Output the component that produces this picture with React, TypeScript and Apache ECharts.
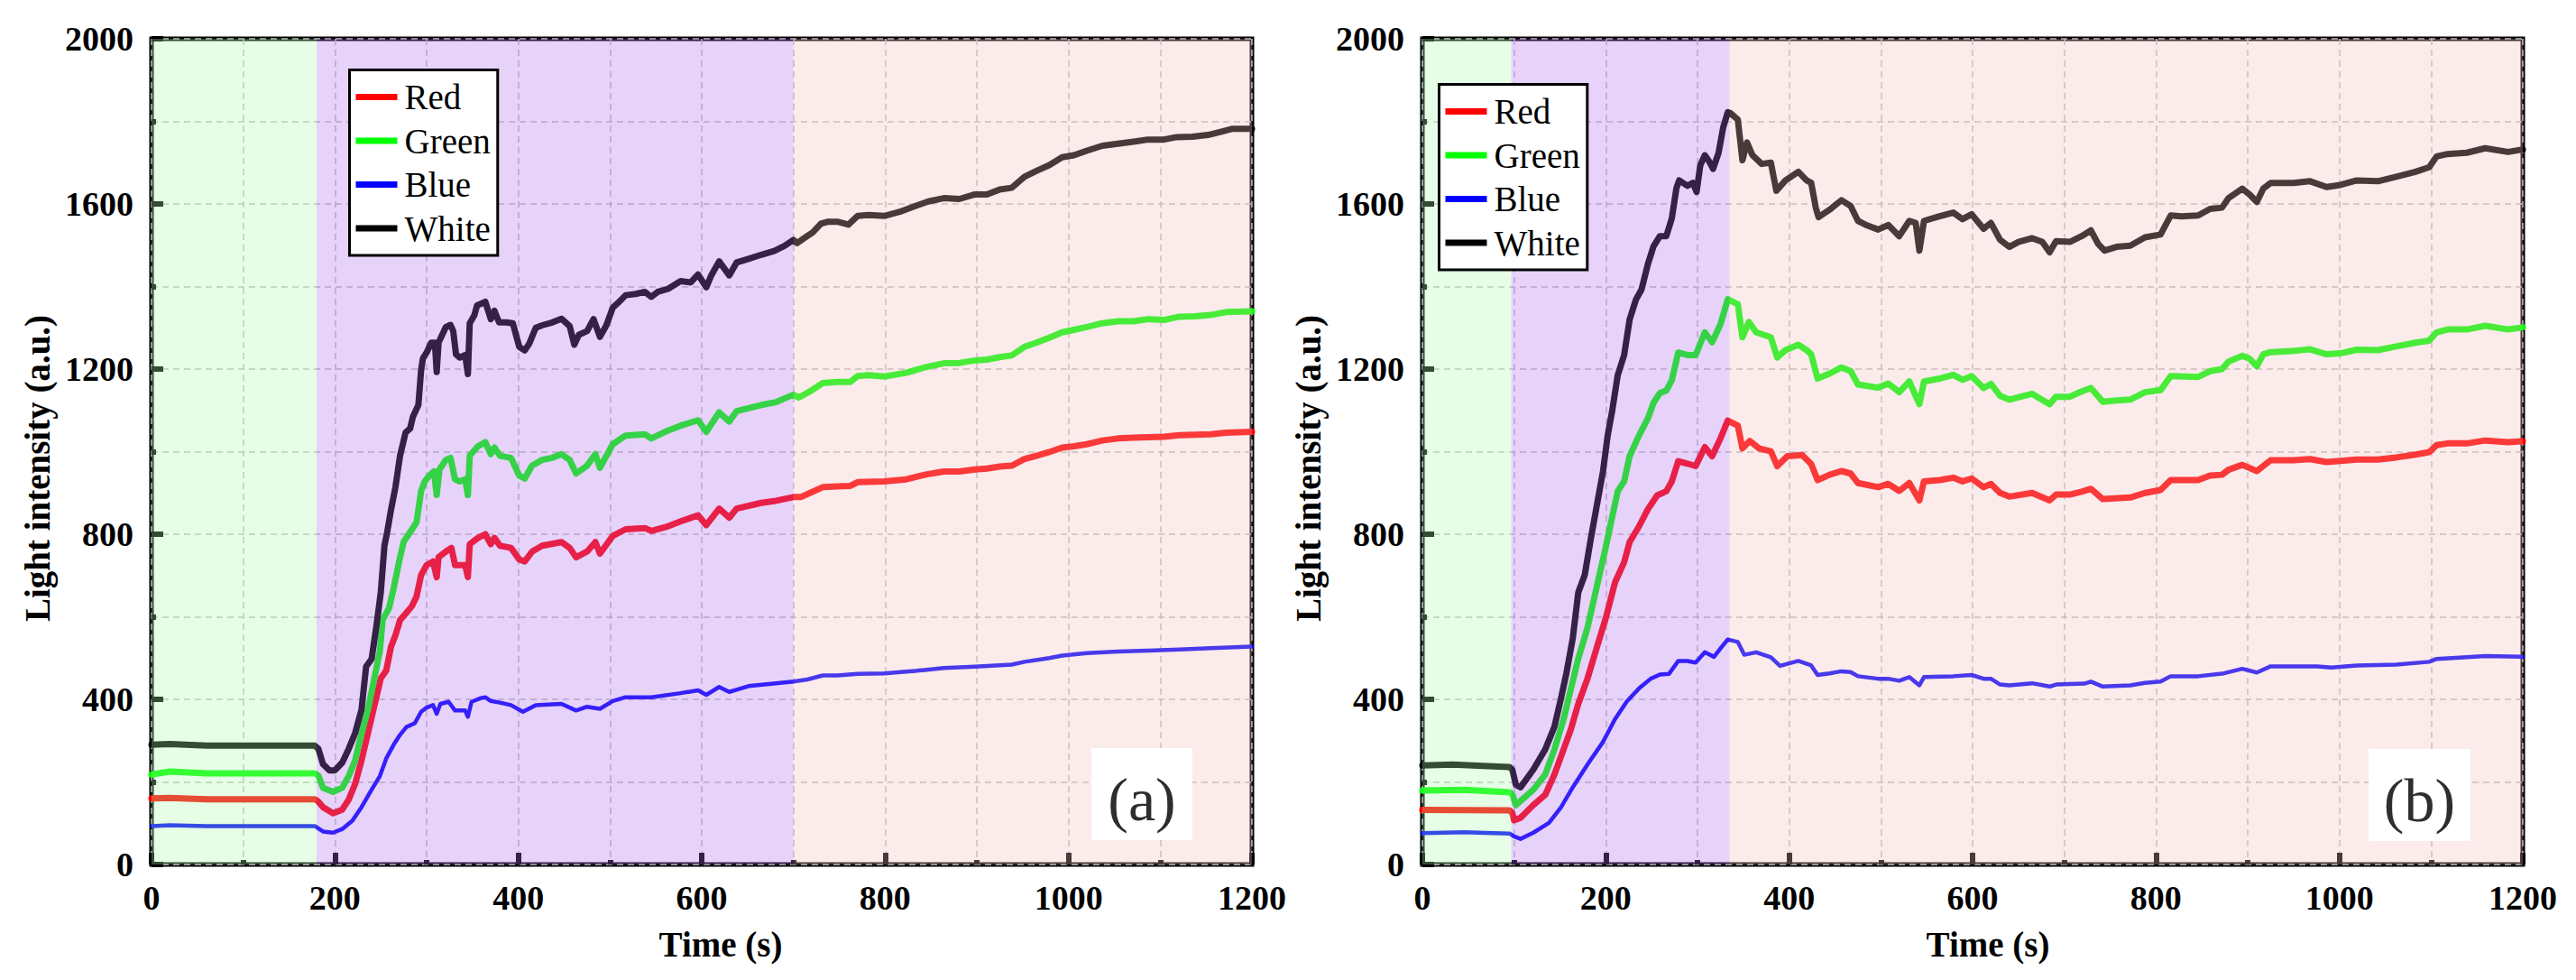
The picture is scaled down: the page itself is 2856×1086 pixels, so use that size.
import { useEffect, useRef } from 'react';
import * as echarts from 'echarts';

// Panel (a): [time s, intensity a.u.]
const aRed: [number, number][] = [
  [0, 160], [20, 161], [60, 158], [178, 158], [182, 152], [187, 139], [198, 124], [208, 133], [215, 157],
  [222, 195], [229, 252], [236, 318], [243, 384], [250, 451], [256, 470], [261, 526], [266, 555], [271, 592],
  [277, 607], [284, 626], [289, 649], [294, 701], [300, 725], [307, 734], [311, 696], [313, 744], [321, 758],
  [327, 767], [331, 725], [342, 725], [345, 696], [347, 776], [356, 791], [364, 800], [370, 776], [374, 791],
  [380, 772], [392, 767], [401, 739], [407, 734], [415, 758], [426, 772], [447, 781], [456, 767], [463, 744],
  [475, 758], [484, 781], [489, 753], [503, 796], [517, 812], [538, 815], [545, 808], [563, 819], [577, 831],
  [596, 846], [605, 822], [619, 862], [630, 840], [638, 862], [665, 876], [681, 881], [700, 890], [708, 890],
  [718, 900], [732, 914], [748, 916], [762, 917], [770, 926], [799, 928], [823, 933], [843, 944], [864, 952],
  [881, 952], [898, 957], [911, 959], [925, 964], [938, 966], [952, 982], [965, 990], [979, 999], [993, 1010],
  [1006, 1013], [1020, 1018], [1037, 1027], [1054, 1032], [1071, 1034], [1087, 1035], [1104, 1036],
  [1121, 1040], [1138, 1041], [1155, 1042], [1172, 1046], [1200, 1048],
];
const aGreen: [number, number][] = [
  [0, 218], [20, 225], [60, 221], [178, 221], [182, 215], [187, 186], [198, 176], [208, 186], [215, 214],
  [222, 252], [229, 318], [236, 375], [243, 451], [249, 517], [252, 592], [259, 621], [264, 668], [270, 734],
  [275, 782], [282, 805], [289, 829], [294, 905], [298, 928], [303, 942], [308, 952], [311, 895], [314, 957],
  [321, 980], [326, 985], [331, 933], [336, 928], [342, 933], [345, 895], [347, 990], [356, 1013], [364, 1023],
  [370, 994], [374, 1010], [380, 990], [392, 985], [401, 942], [407, 935], [415, 966], [426, 980], [437, 985],
  [447, 994], [456, 980], [463, 947], [475, 966], [484, 994], [489, 961], [503, 1018], [517, 1039],
  [538, 1042], [545, 1032], [563, 1051], [577, 1063], [596, 1076], [605, 1048], [619, 1095], [630, 1073],
  [638, 1098], [665, 1113], [681, 1120], [700, 1138], [706, 1131], [718, 1146], [732, 1166], [748, 1169],
  [762, 1169], [770, 1183], [782, 1185], [799, 1182], [823, 1191], [843, 1204], [864, 1214], [881, 1215],
  [898, 1221], [911, 1223], [925, 1229], [938, 1233], [952, 1254], [965, 1264], [979, 1276], [993, 1289],
  [1006, 1295], [1020, 1302], [1037, 1311], [1054, 1316], [1071, 1316], [1087, 1321], [1104, 1319],
  [1121, 1327], [1138, 1328], [1155, 1331], [1172, 1338], [1200, 1340],
];
const aBlue: [number, number][] = [
  [0, 93], [20, 95], [60, 93], [178, 93], [187, 80], [198, 77], [208, 86], [219, 106], [229, 139], [240, 181],
  [249, 214], [256, 257], [264, 290], [271, 314], [278, 333], [287, 342], [294, 370], [300, 380], [307, 386],
  [311, 365], [315, 389], [324, 394], [331, 373], [342, 373], [345, 358], [349, 394], [359, 403], [364, 405],
  [370, 396], [380, 392], [392, 386], [405, 370], [419, 386], [447, 389], [463, 373], [475, 382], [489, 377],
  [503, 396], [517, 405], [545, 405], [577, 415], [596, 422], [605, 411], [619, 430], [630, 418], [651, 432],
  [681, 439], [700, 443], [715, 448], [732, 458], [748, 458], [770, 462], [799, 463], [823, 467], [843, 471],
  [864, 476], [898, 479], [938, 484], [952, 491], [979, 500], [993, 506], [1020, 512], [1054, 516],
  [1087, 518], [1121, 521], [1155, 524], [1200, 528],
];
const aWhite: [number, number][] = [
  [0, 290], [20, 292], [60, 288], [178, 288], [182, 280], [187, 243], [194, 228], [200, 228], [208, 247],
  [215, 280], [222, 318], [229, 375], [234, 479], [240, 498], [245, 574], [250, 659], [254, 772], [257, 805],
  [261, 857], [266, 914], [271, 990], [277, 1046], [282, 1056], [285, 1084], [291, 1113], [294, 1198],
  [296, 1226], [300, 1240], [305, 1264], [309, 1264], [311, 1193], [313, 1264], [321, 1302], [326, 1307],
  [329, 1292], [332, 1236], [336, 1228], [342, 1234], [345, 1188], [347, 1311], [352, 1330], [355, 1354],
  [364, 1363], [370, 1321], [374, 1341], [379, 1313], [387, 1313], [394, 1311], [401, 1254], [407, 1245],
  [412, 1262], [419, 1300], [426, 1306], [437, 1313], [447, 1322], [456, 1304], [461, 1259], [466, 1283],
  [475, 1292], [482, 1321], [489, 1278], [496, 1306], [503, 1349], [510, 1363], [517, 1379], [528, 1382],
  [538, 1387], [545, 1375], [552, 1387], [563, 1394], [577, 1413], [588, 1410], [596, 1429], [605, 1398],
  [610, 1425], [619, 1461], [630, 1427], [638, 1458], [651, 1467], [665, 1477], [679, 1486], [690, 1498],
  [700, 1513], [704, 1505], [715, 1522], [721, 1531], [730, 1552], [738, 1557], [748, 1557], [760, 1550],
  [770, 1571], [782, 1573], [799, 1571], [816, 1581], [833, 1595], [847, 1606], [864, 1614], [881, 1612],
  [898, 1623], [911, 1623], [925, 1635], [938, 1639], [952, 1666], [965, 1680], [979, 1694], [993, 1713],
  [1006, 1718], [1020, 1729], [1037, 1741], [1054, 1746], [1071, 1751], [1087, 1756], [1104, 1756],
  [1118, 1762], [1135, 1763], [1152, 1767], [1165, 1774], [1179, 1782], [1200, 1782],
];

// Panel (b)
const bRed: [number, number][] = [
  [0, 132], [95, 131], [98, 125], [100, 107], [107, 113], [121, 144], [134, 169], [144, 218], [154, 279],
  [162, 328], [170, 389], [180, 450], [190, 524], [200, 597], [210, 683], [220, 732], [226, 781], [236, 818],
  [246, 861], [256, 894], [266, 904], [272, 928], [279, 977], [289, 971], [298, 965], [308, 1011], [316, 989],
  [325, 1032], [333, 1075], [344, 1063], [349, 1008], [357, 1026], [367, 1008], [380, 1001], [387, 965],
  [398, 989], [414, 992], [424, 970], [431, 931], [444, 944], [457, 953], [467, 947], [475, 924], [497, 914],
  [508, 922], [520, 905], [531, 924], [542, 882], [547, 928], [564, 931], [579, 937], [589, 928], [599, 935],
  [612, 914], [620, 922], [630, 900], [640, 891], [665, 900], [684, 882], [691, 896], [706, 896], [719, 903],
  [729, 910], [742, 885], [772, 889], [788, 900], [805, 907], [816, 931], [846, 931], [859, 942], [872, 944],
  [879, 956], [894, 968], [910, 953], [925, 979], [950, 979], [968, 982], [986, 975], [1019, 981],
  [1042, 981], [1062, 986], [1083, 993], [1098, 999], [1106, 1016], [1118, 1020], [1139, 1020],
  [1159, 1027], [1184, 1023], [1200, 1025],
];
const bGreen: [number, number][] = [
  [0, 179], [45, 181], [95, 175], [98, 170], [102, 144], [107, 154], [121, 181], [134, 218], [144, 279],
  [154, 352], [162, 426], [170, 499], [180, 573], [190, 671], [200, 769], [207, 842], [213, 904], [220, 928],
  [226, 989], [236, 1038], [246, 1081], [252, 1118], [259, 1142], [266, 1148], [272, 1173], [279, 1240],
  [289, 1234], [298, 1234], [308, 1289], [316, 1265], [325, 1308], [333, 1369], [344, 1357], [349, 1277],
  [356, 1314], [364, 1289], [380, 1277], [387, 1228], [396, 1246], [410, 1259], [419, 1246], [424, 1236],
  [431, 1177], [444, 1189], [457, 1204], [467, 1195], [475, 1163], [497, 1155], [508, 1165], [520, 1144],
  [531, 1170], [542, 1115], [547, 1170], [564, 1177], [579, 1186], [589, 1174], [599, 1183], [612, 1154],
  [620, 1164], [630, 1135], [640, 1126], [665, 1140], [684, 1115], [691, 1133], [706, 1133], [719, 1146],
  [729, 1154], [742, 1121], [757, 1124], [772, 1126], [788, 1144], [805, 1149], [816, 1183], [846, 1181],
  [859, 1195], [872, 1200], [879, 1218], [894, 1232], [902, 1225], [910, 1207], [917, 1236], [925, 1241],
  [950, 1244], [968, 1248], [986, 1236], [1001, 1238], [1019, 1247], [1042, 1246], [1062, 1255],
  [1083, 1264], [1098, 1269], [1106, 1289], [1118, 1296], [1139, 1296], [1159, 1305], [1184, 1296],
  [1200, 1301],
];
const bBlue: [number, number][] = [
  [0, 76], [45, 78], [95, 75], [100, 68], [107, 62], [121, 77], [138, 101], [151, 138], [164, 187], [180, 242],
  [197, 297], [210, 352], [223, 395], [236, 426], [249, 450], [259, 460], [269, 462], [279, 493], [289, 493],
  [298, 489], [308, 514], [318, 503], [326, 526], [333, 545], [344, 539], [351, 508], [364, 514], [380, 502],
  [390, 481], [410, 493], [424, 482], [431, 459], [444, 463], [457, 468], [467, 466], [475, 456], [497, 450],
  [508, 450], [520, 445], [531, 454], [542, 434], [547, 454], [579, 456], [599, 459], [612, 450], [620, 450],
  [630, 436], [640, 434], [665, 439], [684, 431], [691, 436], [722, 438], [729, 443], [742, 431], [772, 434],
  [788, 440], [805, 443], [816, 456], [846, 456], [874, 463], [894, 474], [910, 465], [925, 480], [976, 480],
  [991, 477], [1019, 482], [1062, 484], [1098, 491], [1106, 498], [1139, 502], [1159, 505], [1200, 503],
];
const bWhite: [number, number][] = [
  [0, 240], [33, 242], [66, 239], [95, 236], [98, 230], [102, 193], [107, 187], [111, 199], [121, 230],
  [134, 279], [144, 334], [151, 401], [157, 463], [164, 548], [170, 659], [177, 701], [184, 793], [190, 867],
  [197, 953], [202, 1038], [207, 1099], [213, 1185], [220, 1234], [226, 1320], [233, 1369], [239, 1393],
  [246, 1455], [252, 1497], [259, 1522], [266, 1522], [272, 1565], [277, 1638], [280, 1657], [289, 1644],
  [295, 1651], [299, 1629], [303, 1693], [308, 1718], [313, 1702], [317, 1685], [323, 1724], [328, 1785],
  [333, 1822], [336, 1820], [344, 1804], [349, 1706], [354, 1749], [360, 1718], [370, 1697], [380, 1700],
  [386, 1632], [396, 1657], [410, 1678], [419, 1657], [424, 1651], [429, 1591], [432, 1568], [444, 1586],
  [457, 1609], [467, 1595], [475, 1559], [485, 1548], [497, 1538], [508, 1549], [520, 1522], [531, 1559],
  [538, 1554], [542, 1487], [547, 1559], [564, 1570], [579, 1579], [589, 1563], [599, 1575], [612, 1540],
  [620, 1554], [630, 1513], [640, 1496], [650, 1508], [665, 1517], [676, 1508], [684, 1483], [691, 1510],
  [706, 1508], [719, 1522], [729, 1536], [737, 1503], [744, 1487], [757, 1496], [772, 1499], [788, 1519],
  [805, 1526], [816, 1572], [828, 1570], [846, 1572], [859, 1588], [872, 1591], [879, 1614], [894, 1637],
  [902, 1623], [910, 1605], [917, 1637], [925, 1651], [950, 1651], [968, 1655], [986, 1641], [1001, 1646],
  [1019, 1657], [1042, 1655], [1062, 1666], [1083, 1678], [1098, 1689], [1106, 1715], [1118, 1721],
  [1139, 1724], [1159, 1735], [1184, 1726], [1200, 1732],
];

const seriesNames = ['Red', 'Green', 'Blue', 'White'];
const seriesColors = ['#ff0000', '#00ff00', '#0000ff', '#000000'];
const lineWidths = [7, 7, 4.5, 7];
const panelData = [
  [aRed, aGreen, aBlue, aWhite],
  [bRed, bGreen, bBlue, bWhite],
];

// shaded stages (time s)
const stagesA = [[0, 180], [180, 700], [700, 1200]];
const stagesB = [[0, 97], [97, 335], [335, 1200]];
const stageColors = ['rgba(173,248,173,0.3)', 'rgba(177,107,240,0.3)', 'rgba(243,190,190,0.3)'];

const panelLabels = ['(a)', '(b)'];
const timeRange = [0, 1200];
const intensityRange = [0, 2000];

const FONT = 'Liberation Serif';

const grids = [
  { left: 168, top: 43, width: 1220, height: 915 },
  { left: 1577, top: 43, width: 1220, height: 915 },
];
const legendPos = [
  { left: 387.5, top: 77.5 },
  { left: 1595.5, top: 93.5 },
];
const labelBoxes = [
  { x: 1210, y: 829, width: 112, height: 102 },
  { x: 2626, y: 830, width: 113, height: 102 },
];

export default function App() {
  const chartRef = useRef<HTMLDivElement>(null);

  useEffect(() => {
    if (!chartRef.current) return;
    const chart = echarts.init(chartRef.current, undefined, { renderer: 'svg' });

    const gridLine = { color: '#bdbdbd', width: 1.5, type: [7, 5] as number[] };
    const tickStyle = { color: '#000', width: 6 };
    const labelStyle = {
      color: '#000',
      fontFamily: FONT,
      fontWeight: 'bold' as const,
      fontSize: 38,
      formatter: (v: number) => String(v),
    };

    const series: any[] = [];
    panelData.forEach((sets, p) => {
      sets.forEach((d, i) => {
        series.push({
          type: 'line',
          name: seriesNames[i],
          xAxisIndex: p,
          yAxisIndex: p,
          data: d,
          showSymbol: false,
          symbol: 'none',
          z: 2,
          itemStyle: { color: seriesColors[i] },
          lineStyle: { color: seriesColors[i], width: lineWidths[i], cap: 'round', join: 'round' },
        });
      });
      const stages = p === 0 ? stagesA : stagesB;
      series.push({
        type: 'line',
        name: 'stages' + p,
        xAxisIndex: p,
        yAxisIndex: p,
        data: [],
        z: 10,
        markArea: {
          silent: true,
          z: 10,
          label: { show: false },
          data: stages.map((s, k) => [
            { xAxis: s[0], itemStyle: { color: stageColors[k], borderWidth: 0 } },
            { xAxis: s[1] },
          ]),
        },
      });
    });

    const graphic: any[] = [];
    grids.forEach((g, p) => {
      graphic.push({
        type: 'text',
        x: g.left - 127,
        y: 519,
        rotation: Math.PI / 2,
        z: 50,
        style: {
          text: 'Light intensity (a.u.)',
          fontFamily: FONT,
          fontWeight: 'bold',
          fontSize: 39,
          fill: '#000',
          align: 'center',
          verticalAlign: 'middle',
        },
      });
      graphic.push({
        type: 'text',
        x: g.left + g.width / 2 + (p === 0 ? 21 : 17),
        y: 1046,
        z: 50,
        style: {
          text: 'Time (s)',
          fontFamily: FONT,
          fontWeight: 'bold',
          fontSize: 39,
          fill: '#000',
          align: 'center',
          verticalAlign: 'middle',
        },
      });
      const b = labelBoxes[p];
      graphic.push({
        type: 'rect',
        shape: { x: b.x, y: b.y, width: b.width, height: b.height },
        z: 50,
        style: { fill: '#ffffff' },
      });
      graphic.push({
        type: 'text',
        x: b.x + b.width / 2,
        y: b.y + 57,
        z: 51,
        style: {
          text: panelLabels[p],
          fontFamily: FONT,
          fontSize: 68,
          fill: '#2e2e2e',
          align: 'center',
          verticalAlign: 'middle',
        },
      });
    });

    const option: any = {
      animation: false,
      backgroundColor: '#ffffff',
      grid: grids.map((g) => ({
        ...g,
        show: true,
        borderColor: '#000',
        borderWidth: 5,
        backgroundColor: 'transparent',
      })),
      xAxis: grids.map((_, i) => ({
        type: 'value',
        gridIndex: i,
        min: timeRange[0],
        max: timeRange[1],
        interval: 200,
        axisLine: { show: false },
        axisTick: { show: true, inside: true, length: 13, lineStyle: tickStyle },
        minorTick: { show: true, splitNumber: 2, length: 5, lineStyle: tickStyle },
        axisLabel: { ...labelStyle, margin: 18 },
        splitLine: { show: true, lineStyle: gridLine },
        minorSplitLine: { show: true, lineStyle: gridLine },
      })),
      yAxis: grids.map((_, i) => ({
        type: 'value',
        gridIndex: i,
        min: intensityRange[0],
        max: intensityRange[1],
        interval: 400,
        axisLine: { show: false },
        axisTick: { show: true, inside: true, length: 13, lineStyle: tickStyle },
        minorTick: { show: true, splitNumber: 2, length: 5, lineStyle: tickStyle },
        axisLabel: { ...labelStyle, margin: 20 },
        splitLine: { show: true, lineStyle: gridLine },
        minorSplitLine: { show: true, lineStyle: gridLine },
      })),
      legend: legendPos.map((pos) => ({
        ...pos,
        orient: 'vertical',
        data: seriesNames,
        icon: 'rect',
        itemWidth: 46,
        itemHeight: 7,
        itemGap: 8.5,
        padding: [10, 8, 10, 7],
        backgroundColor: '#ffffff',
        borderColor: '#000',
        borderWidth: 3,
        borderRadius: 0,
        z: 20,
        itemStyle: { borderWidth: 0 },
        textStyle: { fontFamily: FONT, fontSize: 39, lineHeight: 40, color: '#000', padding: [0, 0, 0, 3] },
      })),
      graphic,
      series,
    };

    chart.setOption(option);
    return () => {
      chart.dispose();
    };
  }, []);

  return (
    <div
      ref={chartRef}
      style={{ position: 'absolute', left: 0, top: 0, width: '2856px', height: '1086px' }}
    />
  );
}
